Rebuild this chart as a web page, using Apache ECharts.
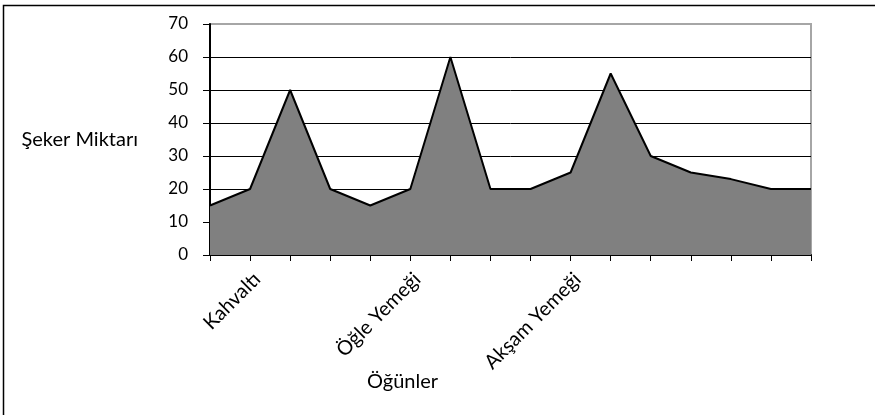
<!DOCTYPE html>
<html>
<head>
<meta charset="utf-8">
<script src="https://cdn.jsdelivr.net/npm/echarts@6/dist/echarts.min.js"></script>
<style>
  html, body { margin: 0; padding: 0; background: #fff; }
  #container { width: 875px; height: 415px; }
</style>
</head>
<body>
<div id="container"></div>
<script>
// x categories: only three of the points carry a label
const categories = ['', 'Kahvaltı', '', '', '', 'Öğle Yemeği', '', '', '', 'Akşam Yemeği', '', '', '', '', '', ''];
const sugar = [15, 20, 50, 20, 15, 20, 60, 20, 20, 25, 55, 30, 25, 23, 20, 20];
const yTicks = [0, 10, 20, 30, 40, 50, 60, 70];

const font = 'Lato, "Open Sans", sans-serif';

let dom = document.getElementById('container');
let myChart = echarts.init(dom, null, { renderer: 'canvas' });

let option = {
    animation: false,
    grid: {
        left: 210,
        right: 64,
        top: 24,
        bottom: 160,
        show: true,
        borderColor: '#a6a6a6',
        borderWidth: 2,
        backgroundColor: 'transparent'
    },
    graphic: [
        {
            type: 'rect',
            shape: { x: 3.5, y: 5.5, width: 900, height: 430 },
            style: { fill: 'none', stroke: '#000', lineWidth: 1.5 },
            silent: true
        },
        {
            type: 'text',
            left: 367,
            top: 372,
            style: { text: 'Öğünler', font: '20px ' + font, fill: '#000' }
        }
    ],
    xAxis: {
        type: 'category',
        data: categories,
        boundaryGap: false,
        axisLine: { lineStyle: { color: '#000', width: 2 } },
        axisTick: { show: true, interval: 0, length: 6, lineStyle: { color: '#000', width: 1 } },
        axisLabel: {
            interval: 0,
            rotate: 45,
            margin: 28,
            padding: [0, -10, 0, 0],
            color: '#000',
            fontFamily: font,
            fontSize: 20
        },
        splitLine: { show: false }
    },
    yAxis: {
        type: 'value',
        min: 0,
        max: 70,
        interval: 10,
        name: 'Şeker Miktarı',
        nameLocation: 'middle',
        nameRotate: 0,
        nameGap: 72,
        nameTextStyle: { color: '#000', fontFamily: font, fontSize: 20 },
        axisLine: { show: true, lineStyle: { color: '#000', width: 2 } },
        axisTick: { show: true, length: 7, lineStyle: { color: '#000', width: 1 } },
        axisLabel: {
            margin: 22,
            color: '#000',
            fontFamily: font,
            fontSize: 17,
            formatter: function (v) { return yTicks.indexOf(v) >= 0 ? String(v) : ''; }
        },
        splitLine: {
            show: true,
            lineStyle: {
                color: ['#000', '#000', '#000', '#000', '#000', '#000', '#000', '#a6a6a6'],
                width: 1
            }
        }
    },
    series: [
        {
            name: 'Şeker Miktarı',
            type: 'line',
            data: sugar,
            symbol: 'none',
            lineStyle: { color: '#000', width: 2 },
            areaStyle: { color: '#808080', opacity: 1 },
            z: 3
        }
    ]
};
myChart.setOption(option);
</script>
</body>
</html>
